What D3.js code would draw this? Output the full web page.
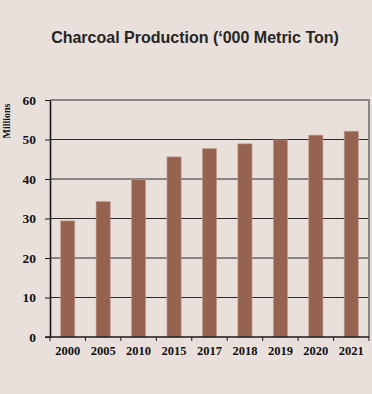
<!DOCTYPE html>
<html>
<head>
<meta charset="utf-8">
<script src="https://cdn.jsdelivr.net/npm/d3@7"></script>
<style>
  html, body { margin: 0; padding: 0; background: #e9dfdb; }
  svg { display: block; }
</style>
</head>
<body>
<script>
// Charcoal production per year ('000 metric tons)
const years = ["2000", "2005", "2010", "2015", "2017", "2018", "2019", "2020", "2021"];
const production = [29.4, 34.3, 39.9, 45.6, 47.7, 48.9, 49.9, 51.1, 52.1];
const yTicks = [0, 10, 20, 30, 40, 50, 60];

const W = 372, H = 394;
const plot = { left: 50, right: 369, top: 100, bottom: 337 };

const svg = d3.select("body").append("svg")
  .attr("width", W).attr("height", H);

svg.append("rect").attr("width", W).attr("height", H).attr("fill", "#e9dfdb");

const x = d3.scaleBand()
  .domain(years)
  .range([plot.left, plot.right])
  .paddingInner(0.6)
  .paddingOuter(0.3);

const xCat = d3.scaleBand().domain(years).range([plot.left, plot.right]);

const y = d3.scaleLinear().domain([0, 60]).range([plot.bottom, plot.top]);

// Title
svg.append("text")
  .attr("x", 195).attr("y", 43)
  .attr("text-anchor", "middle")
  .attr("font-family", "Liberation Sans, Arial, sans-serif")
  .attr("font-weight", "bold")
  .attr("font-size", 16)
  .attr("fill", "#262626")
  .text("Charcoal Production (\u2018000 Metric Ton)");

// Horizontal gridlines
svg.append("g")
  .selectAll("line")
  .data(yTicks.filter(d => d > 0 && d < 60))
  .join("line")
  .attr("x1", plot.left).attr("x2", plot.right)
  .attr("y1", d => y(d)).attr("y2", d => y(d))
  .attr("stroke", "#2a2a2a").attr("stroke-width", 1);

// Plot frame (top and right)
svg.append("path")
  .attr("d", `M${plot.left},${plot.top}H${plot.right}V${plot.bottom}`)
  .attr("fill", "none")
  .attr("stroke", "#8a8684").attr("stroke-width", 2);

// Bars
svg.append("g")
  .selectAll("rect")
  .data(production)
  .join("rect")
  .attr("x", (d, i) => x(years[i]))
  .attr("width", x.bandwidth())
  .attr("y", d => y(d))
  .attr("height", d => y(0) - y(d))
  .attr("fill", "#956350")
  .attr("stroke", "#c4a090")
  .attr("stroke-width", 0.6);

// Y axis
const yAxis = svg.append("g")
  .attr("transform", `translate(${plot.left},0)`)
  .call(d3.axisLeft(y).tickValues(yTicks).tickSize(5).tickPadding(9).tickSizeOuter(0));
yAxis.select(".domain").attr("stroke", "#1a1a1a").attr("stroke-width", 1.6);
yAxis.selectAll(".tick line").attr("stroke", "#1a1a1a");
yAxis.selectAll("text")
  .attr("font-family", "Liberation Serif, Times New Roman, serif")
  .attr("font-weight", "bold")
  .attr("font-size", 13.5)
  .attr("fill", "#111");

// X axis
const xAxis = svg.append("g")
  .attr("transform", `translate(0,${plot.bottom})`)
  .call(d3.axisBottom(xCat).tickSize(0).tickPadding(9));
xAxis.select(".domain").remove();
svg.append("line")
  .attr("x1", plot.left - 5).attr("x2", plot.right)
  .attr("y1", plot.bottom).attr("y2", plot.bottom)
  .attr("stroke", "#1a1a1a").attr("stroke-width", 1.4);
xAxis.selectAll("text")
  .attr("font-family", "Liberation Serif, Times New Roman, serif")
  .attr("font-weight", "bold")
  .attr("font-size", 12.5)
  .attr("fill", "#111");

// Category separator ticks below the axis
svg.append("g")
  .selectAll("line")
  .data(years.map(d => xCat(d)).concat([plot.right]))
  .join("line")
  .attr("x1", d => d).attr("x2", d => d)
  .attr("y1", plot.bottom).attr("y2", plot.bottom + 4)
  .attr("stroke", "#1a1a1a");

// Y axis unit label
svg.append("text")
  .attr("transform", `translate(10,121) rotate(-90)`)
  .attr("text-anchor", "middle")
  .attr("font-family", "Liberation Serif, Times New Roman, serif")
  .attr("font-weight", "bold")
  .attr("font-size", 10)
  .attr("fill", "#111")
  .text("Millions");
</script>
</body>
</html>
